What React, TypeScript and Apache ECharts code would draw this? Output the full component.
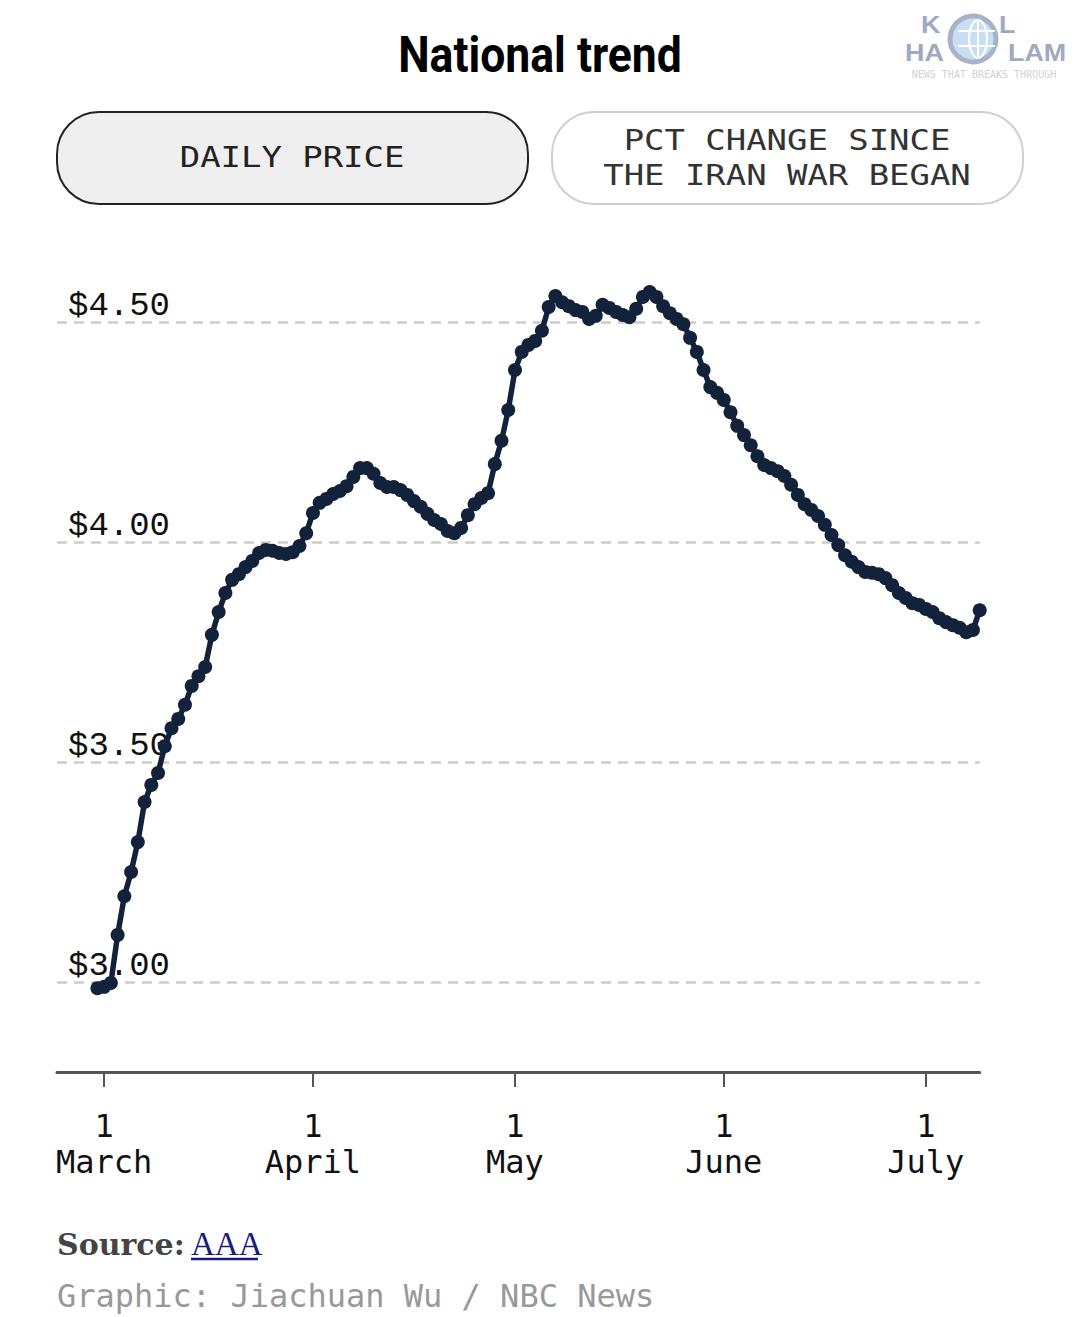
import React, { useEffect, useRef } from "react";
import * as echarts from "echarts";

// ---- Data ----
const AXIS_START = "2026-02-22"; // first day on the x axis (left edge)
const AXIS_END = "2026-07-09"; // last day on the x axis (right edge)
const PRICE_START = "2026-02-28"; // first day with a price
// Daily national average gas price, Feb 28 -> Jul 9
const prices: number[] = [
  2.986, 2.989, 2.998, 3.107, 3.195, 3.25, 3.318, 3.409, 3.448, 3.475,
  3.536, 3.577, 3.598, 3.63, 3.673, 3.695, 3.716, 3.789, 3.841, 3.884,
  3.914, 3.927, 3.943, 3.957, 3.975, 3.982, 3.98, 3.975, 3.973, 3.977,
  3.991, 4.02, 4.066, 4.089, 4.098, 4.109, 4.116, 4.127, 4.148, 4.168,
  4.168, 4.155, 4.134, 4.125, 4.125, 4.118, 4.107, 4.093, 4.08, 4.064,
  4.05, 4.041, 4.025, 4.02, 4.032, 4.061, 4.086, 4.1, 4.111, 4.177,
  4.23, 4.3, 4.391, 4.432, 4.448, 4.457, 4.48, 4.534, 4.559, 4.545,
  4.536, 4.527, 4.523, 4.507, 4.514, 4.539, 4.532, 4.523, 4.516, 4.511,
  4.53, 4.557, 4.568, 4.557, 4.536, 4.52, 4.507, 4.495, 4.464, 4.432,
  4.391, 4.352, 4.339, 4.323, 4.295, 4.264, 4.243, 4.22, 4.195, 4.175,
  4.168, 4.161, 4.15, 4.13, 4.107, 4.086, 4.073, 4.059, 4.039, 4.016,
  3.993, 3.97, 3.955, 3.943, 3.932, 3.93, 3.927, 3.918, 3.902, 3.884,
  3.873, 3.861, 3.857, 3.848, 3.841, 3.827, 3.818, 3.811, 3.805, 3.795,
  3.8, 3.845,
];
const yTicks: number[] = [3.0, 3.5, 4.0, 4.5];
const monthNames: string[] = [
  "January", "February", "March", "April", "May", "June",
  "July", "August", "September", "October", "November", "December",
];

const TITLE = "National trend";
const BUTTON_LEFT = "DAILY PRICE";
const BUTTON_RIGHT_1 = "PCT CHANGE SINCE";
const BUTTON_RIGHT_2 = "THE IRAN WAR BEGAN";
const SOURCE_LABEL = "Source:";
const SOURCE_LINK = "AAA";
const CREDIT = "Graphic: Jiachuan Wu / NBC News";

function buildDates(start: string, end: string): string[] {
  const out: string[] = [];
  const d = new Date(start + "T00:00:00Z");
  const e = new Date(end + "T00:00:00Z");
  while (d.getTime() <= e.getTime()) {
    out.push(d.toISOString().slice(0, 10));
    d.setUTCDate(d.getUTCDate() + 1);
  }
  return out;
}

const dates = buildDates(AXIS_START, AXIS_END);
const priceOffset = dates.indexOf(PRICE_START);
const seriesData = dates.map((_, i) => {
  const k = i - priceOffset;
  return k >= 0 && k < prices.length ? prices[k] : null;
});

const isMonthStart = (_i: number, v: string) => v.slice(8, 10) === "01";

const NAVY = "#13223b";
const MONO = '"DejaVu Sans Mono", "Liberation Mono", monospace';
const LOGO_FONT = 'bold 24px "Liberation Sans", sans-serif';
const LOGO_COLOR = "#a0a9bf";

export default function App() {
  const ref = useRef<HTMLDivElement>(null);

  useEffect(() => {
    if (!ref.current) return;
    const chart = echarts.init(ref.current, undefined, { renderer: "svg" });
    const logoText = (text: string, x: number, y: number) => ({
      type: "text",
      x,
      y,
      scaleX: 1.12,
      style: { text, font: LOGO_FONT, fill: LOGO_COLOR, align: "left", verticalAlign: "middle" },
    });
    const option: any = {
      animation: false,
      backgroundColor: "#ffffff",
      grid: { left: 57, right: 100.3, top: 256, bottom: 245, containLabel: false },
      xAxis: {
        type: "category",
        data: dates,
        boundaryGap: false,
        axisLine: { show: true, lineStyle: { color: "#555555", width: 3 } },
        axisTick: {
          show: true,
          length: 15,
          interval: isMonthStart,
          lineStyle: { color: "#555555", width: 2 },
        },
        axisLabel: {
          interval: isMonthStart,
          formatter: (v: string) => "1\n" + monthNames[parseInt(v.slice(5, 7), 10) - 1],
          fontFamily: MONO,
          fontSize: 32,
          lineHeight: 36,
          color: "#111111",
          margin: 36,
        },
        splitLine: { show: false },
      },
      yAxis: {
        type: "value",
        min: 2.7955,
        max: 4.65,
        axisLine: { show: false },
        axisTick: { show: false, customValues: yTicks },
        axisLabel: {
          inside: true,
          customValues: yTicks,
          margin: 11,
          verticalAlign: "bottom",
          lineHeight: 33,
          formatter: (v: number) => "$" + v.toFixed(2),
          fontFamily: '"Liberation Mono", "DejaVu Sans Mono", monospace',
          fontSize: 34,
          color: "#111111",
        },
        splitLine: {
          show: true,
          lineStyle: { color: "#cccccc", width: 2.5, type: [10, 7] },
        },
      },
      series: [
        {
          type: "line",
          data: seriesData,
          symbol: "circle",
          symbolSize: 14,
          showAllSymbol: true,
          connectNulls: false,
          lineStyle: { color: NAVY, width: 5.5 },
          itemStyle: { color: NAVY },
          z: 5,
        },
      ],
      graphic: [
        {
          type: "text",
          x: 540,
          y: 55,
          scaleX: 0.89,
          style: {
            text: TITLE,
            font: 'bold 50px "Roboto", "Liberation Sans", sans-serif',
            fill: "#000000",
            align: "center",
            verticalAlign: "middle",
          },
        },
        // logo
        {
          type: "circle",
          shape: { cx: 973, cy: 39, r: 23 },
          style: { fill: "#c9def3", stroke: "#a8b2c8", lineWidth: 5 },
        },
        {
          type: "ellipse",
          shape: { cx: 978, cy: 39, rx: 9, ry: 19 },
          style: { fill: "none", stroke: "#ffffff", lineWidth: 2 },
        },
        {
          type: "line",
          shape: { x1: 978, y1: 20, x2: 978, y2: 58 },
          style: { stroke: "#ffffff", lineWidth: 2 },
        },
        {
          type: "line",
          shape: { x1: 958, y1: 31, x2: 995, y2: 31 },
          style: { stroke: "#ffffff", lineWidth: 2 },
        },
        {
          type: "line",
          shape: { x1: 958, y1: 46, x2: 995, y2: 46 },
          style: { stroke: "#ffffff", lineWidth: 2 },
        },
        logoText("K", 921, 25),
        logoText("L", 999, 25),
        logoText("HA", 905, 53),
        logoText("LAM", 1008, 53),
        {
          type: "text",
          x: 984,
          y: 74,
          style: { text: "NEWS THAT BREAKS THROUGH", font: "10px " + MONO, fill: "#d2d2d2", align: "center", verticalAlign: "middle" },
        },
        // buttons
        {
          type: "rect",
          shape: { x: 57, y: 112, width: 471, height: 92, r: 42 },
          style: { fill: "#efefef", stroke: "#222222", lineWidth: 2 },
        },
        {
          type: "text",
          x: 292,
          y: 157,
          scaleX: 1.17,
          style: { text: BUTTON_LEFT, font: "29px " + MONO, fill: "#222222", align: "center", verticalAlign: "middle" },
        },
        {
          type: "rect",
          shape: { x: 552, y: 112, width: 471, height: 92, r: 42 },
          style: { fill: "#ffffff", stroke: "#cfcfcf", lineWidth: 2 },
        },
        {
          type: "text",
          x: 787,
          y: 140,
          scaleX: 1.17,
          style: { text: BUTTON_RIGHT_1, font: "29px " + MONO, fill: "#333333", align: "center", verticalAlign: "middle" },
        },
        {
          type: "text",
          x: 787,
          y: 175,
          scaleX: 1.17,
          style: { text: BUTTON_RIGHT_2, font: "29px " + MONO, fill: "#333333", align: "center", verticalAlign: "middle" },
        },
        // footer
        {
          type: "text",
          x: 57,
          y: 1244,
          style: { text: SOURCE_LABEL, font: 'bold 30px "DejaVu Serif", "Liberation Serif", serif', fill: "#444444", align: "left", verticalAlign: "middle" },
        },
        {
          type: "text",
          x: 191,
          y: 1244,
          style: { text: SOURCE_LINK, font: '33px "Liberation Serif", serif', fill: "#1a1a7e", align: "left", verticalAlign: "middle" },
        },
        {
          type: "line",
          shape: { x1: 191, y1: 1259, x2: 258, y2: 1259 },
          style: { stroke: "#1a1a7e", lineWidth: 2.5 },
        },
        {
          type: "text",
          x: 57,
          y: 1296,
          style: { text: CREDIT, font: "32px " + MONO, fill: "#999999", align: "left", verticalAlign: "middle" },
        },
      ],
    };
    chart.setOption(option);
    return () => chart.dispose();
  }, []);

  return (
    <div
      ref={ref}
      style={{ position: "fixed", left: 0, top: 0, width: 1080, height: 1317, background: "#ffffff" }}
    />
  );
}
